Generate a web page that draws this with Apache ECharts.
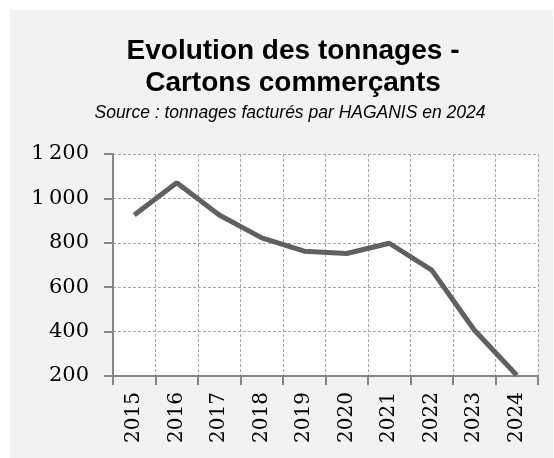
<!DOCTYPE html>
<html><head><meta charset="utf-8">
<script src="https://cdn.jsdelivr.net/npm/echarts@6/dist/echarts.min.js"></script>
<style>html,body{margin:0;padding:0;background:#fff}#c{width:554px;height:458px}</style>
</head><body><div id="c"></div>
<script>
const categories = ['2015','2016','2017','2018','2019','2020','2021','2022','2023','2024'];
const tonnages = [925, 1070, 925, 822, 762, 752, 798, 677, 407, 203];
const yTicks = [200, 400, 600, 800, 1000, 1200];
const chart = echarts.init(document.getElementById('c'), null, {renderer:'canvas'});
const fmt = v => v >= 1000 ? Math.floor(v/1000) + '\u2009' + String(v%1000).padStart(3,'0') : String(v);
chart.setOption({
  animation: false,
  backgroundColor: '#ffffff',
  graphic: [{type:'rect', z:-10, shape:{x:10,y:10,width:543,height:448}, style:{fill:'#f2f2f2'}}],
  title: [
    {text: 'Evolution des tonnages -\nCartons commerçants', left: 288, top: 30, textAlign: 'center',
     textStyle:{fontFamily:'Liberation Sans', fontWeight:'bold', fontSize:28, lineHeight:32, color:'#000'}},
    {text: 'Source : tonnages facturés par HAGANIS en 2024', left: 285, top: 99, textAlign:'center',
     textStyle:{fontFamily:'Liberation Sans', fontStyle:'italic', fontWeight:'normal', fontSize:17.5, color:'#000'}}
  ],
  grid: {left: 113, right: 16, top: 154, bottom: 82, backgroundColor:'#ffffff', show:true, borderWidth:0},
  xAxis: {
    type:'category', data: categories, boundaryGap: true,
    axisLine:{lineStyle:{color:'#868686', width:2}},
    axisTick:{show:true, length:9, lineStyle:{color:'#868686', width:2}, alignWithLabel:false},
    axisLabel:{rotate:90, margin:16, fontFamily:'DejaVu Serif', fontSize:20, color:'#000'},
    splitLine:{show:true, lineStyle:{color:'#a6a6a6', type:[3,2], width:1}}
  },
  yAxis: {
    type:'value', min:200, max:1200, interval:200,
    axisLine:{show:true, lineStyle:{color:'#868686', width:2}},
    axisTick:{show:true, length:9, lineStyle:{color:'#868686', width:2}},
    axisLabel:{margin:24, fontFamily:'DejaVu Serif', fontSize:21, color:'#000', formatter: v => yTicks.includes(v) ? fmt(v) : ''},
    splitLine:{show:true, lineStyle:{color:'#a6a6a6', type:[3,2], width:1}}
  },
  series: [{type:'line', data: tonnages, symbol:'none', lineStyle:{color:'#606060', width:5}, z:5}]
});
</script></body></html>
